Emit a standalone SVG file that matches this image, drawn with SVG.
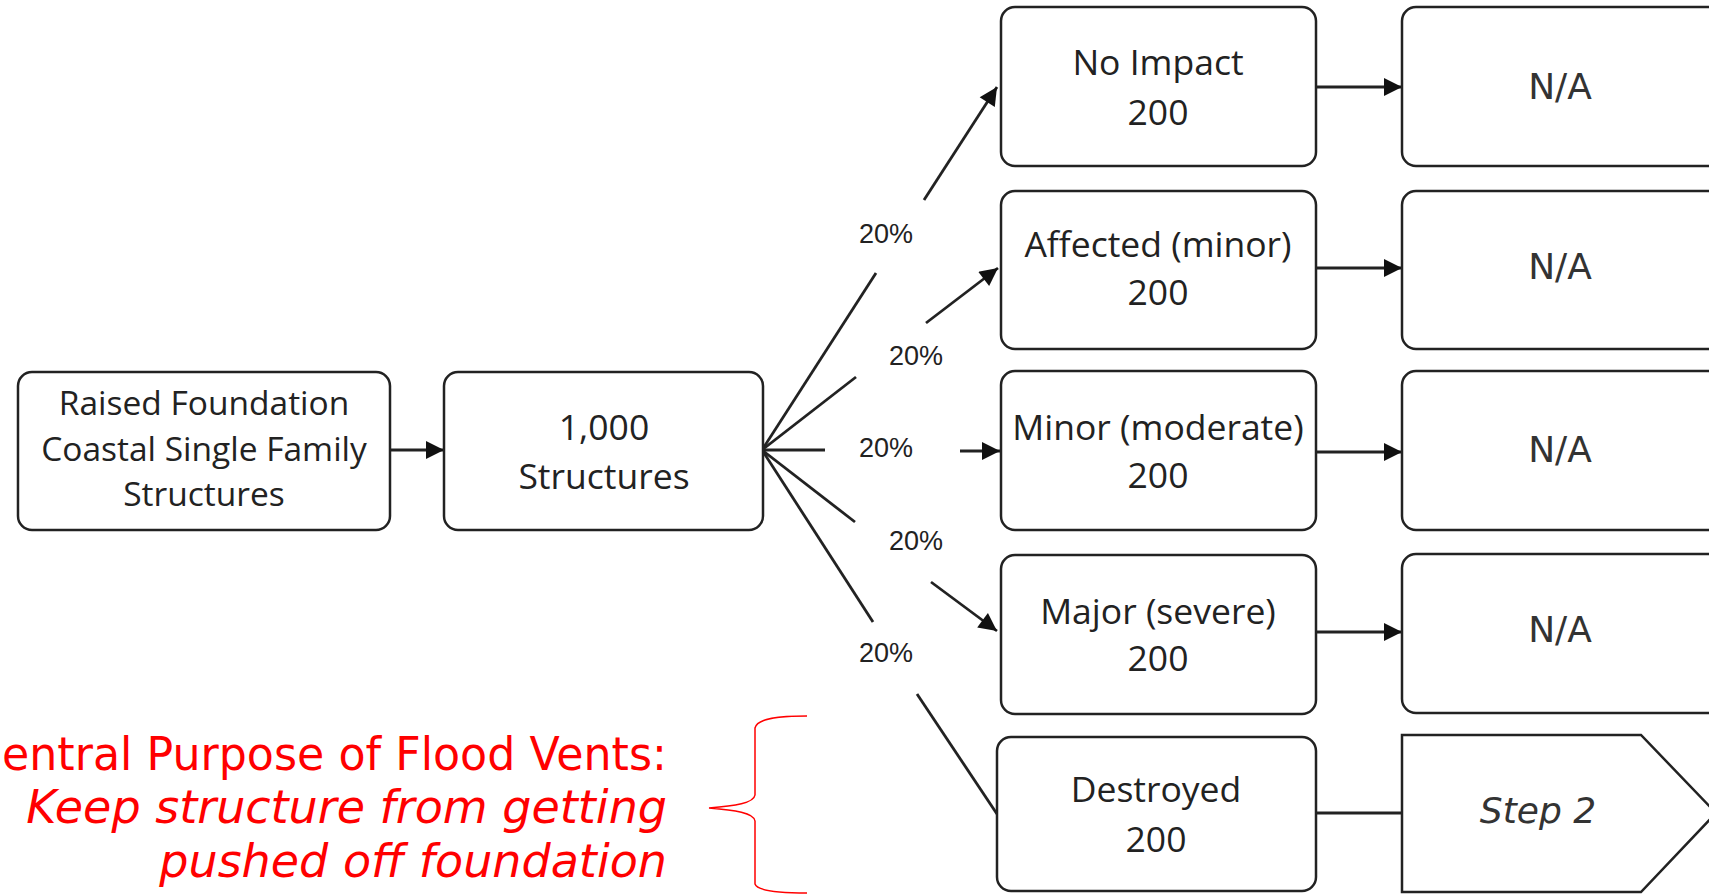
<svg xmlns="http://www.w3.org/2000/svg" width="1709" height="894" viewBox="0 0 1709 894">
<defs>
<marker id="ah" viewBox="0 0 10 10" refX="10" refY="5" markerUnits="userSpaceOnUse" markerWidth="22" markerHeight="18" orient="auto">
<path d="M0,0 L10,5 L0,10 z" fill="#111"/>
</marker>
<style>
.box{fill:#fff;stroke:#222;stroke-width:2.5}
.t{font-family:"Open Sans","Liberation Sans",sans-serif;font-size:35.5px;fill:#222;text-anchor:middle}
.t1{font-size:33.5px}
.na{font-family:"DejaVu Sans",sans-serif;font-size:36px;fill:#333;text-anchor:middle}
.pct{font-family:"Liberation Sans",sans-serif;font-size:27px;fill:#222;text-anchor:middle}
.ln{stroke:#222;stroke-width:2.8;fill:none}
.red{font-family:"DejaVu Sans",sans-serif;font-size:46px;fill:#ff0000}
</style>
</defs>
<rect width="1709" height="894" fill="#fff"/>

<g id="connectors">
<line class="ln" x1="390" y1="450" x2="444" y2="450" stroke-width="3.5" marker-end="url(#ah)"/>
<line class="ln" x1="762" y1="450" x2="876" y2="273"/>
<line class="ln" x1="924" y1="200" x2="997" y2="87" marker-end="url(#ah)"/>
<line class="ln" x1="762" y1="450" x2="856" y2="377"/>
<line class="ln" x1="926" y1="323" x2="998" y2="268" marker-end="url(#ah)"/>
<line class="ln" x1="762" y1="450" x2="825" y2="450"/>
<line class="ln" x1="960" y1="451" x2="1000" y2="451" marker-end="url(#ah)"/>
<line class="ln" x1="762" y1="450" x2="855" y2="522"/>
<line class="ln" x1="931" y1="582" x2="997" y2="631" marker-end="url(#ah)"/>
<line class="ln" x1="762" y1="450" x2="873" y2="622"/>
<line class="ln" x1="917" y1="694" x2="997" y2="814"/>
<line class="ln" x1="1316" y1="87" x2="1402" y2="87" marker-end="url(#ah)"/>
<line class="ln" x1="1316" y1="268" x2="1402" y2="268" marker-end="url(#ah)"/>
<line class="ln" x1="1316" y1="452" x2="1402" y2="452" marker-end="url(#ah)"/>
<line class="ln" x1="1316" y1="632" x2="1402" y2="632" marker-end="url(#ah)"/>
<line class="ln" x1="1316" y1="813" x2="1402" y2="813"/>
<text class="pct" x="886" y="243">20%</text>
<text class="pct" x="916" y="365">20%</text>
<text class="pct" x="886" y="457">20%</text>
<text class="pct" x="916" y="550">20%</text>
<text class="pct" x="886" y="662">20%</text>
</g>

<g id="n-raised">
<rect class="box" x="18" y="372" width="372" height="158" rx="14"/>
<text class="t t1" x="204" y="415">Raised Foundation</text>
<text class="t t1" x="204" y="461">Coastal Single Family</text>
<text class="t t1" x="204" y="506">Structures</text>
</g>
<g id="n-1000">
<rect class="box" x="444" y="372" width="319" height="158" rx="14"/>
<text class="t" x="604" y="440">1,000</text>
<text class="t" x="604" y="489">Structures</text>
</g>
<g id="n-noimpact">
<rect class="box" x="1001" y="7" width="315" height="159" rx="14"/>
<text class="t" x="1158" y="75">No Impact</text>
<text class="t" x="1158" y="125">200</text>
</g>
<g id="n-affected">
<rect class="box" x="1001" y="191" width="315" height="158" rx="14"/>
<text class="t" x="1158" y="257">Affected (minor)</text>
<text class="t" x="1158" y="305">200</text>
</g>
<g id="n-minor">
<rect class="box" x="1001" y="371" width="315" height="159" rx="14"/>
<text class="t" x="1158" y="440">Minor (moderate)</text>
<text class="t" x="1158" y="488">200</text>
</g>
<g id="n-major">
<rect class="box" x="1001" y="555" width="315" height="159" rx="14"/>
<text class="t" x="1158" y="624">Major (severe)</text>
<text class="t" x="1158" y="671">200</text>
</g>
<g id="n-destroyed">
<rect class="box" x="997" y="737" width="319" height="154" rx="14"/>
<text class="t" x="1156" y="802">Destroyed</text>
<text class="t" x="1156" y="852">200</text>
</g>
<g id="n-na1">
<rect class="box" x="1402" y="7" width="330" height="159" rx="14"/>
<text class="na" x="1560" y="99">N/A</text>
</g>
<g id="n-na2">
<rect class="box" x="1402" y="191" width="330" height="158" rx="14"/>
<text class="na" x="1560" y="279">N/A</text>
</g>
<g id="n-na3">
<rect class="box" x="1402" y="371" width="330" height="159" rx="14"/>
<text class="na" x="1560" y="462">N/A</text>
</g>
<g id="n-na4">
<rect class="box" x="1402" y="554" width="330" height="159" rx="14"/>
<text class="na" x="1560" y="642">N/A</text>
</g>
<g id="n-step2">
<path class="box" d="M1402,735 L1641,735 L1716,813 L1641,892 L1402,892 Z"/>
<text class="na" x="1538" y="823" font-size="30" font-style="italic">Step 2</text>
</g>

<g id="annotation">
<path d="M807,716 C780,716 757,718 755,728 L755,795 C754,803 735,806 709,808 C735,810 754,813 755,821 L755,884 C757,890 775,893 807,893" fill="none" stroke="#ff0000" stroke-width="1.5"/>
<text class="red" x="667" y="770" text-anchor="end" textLength="665" lengthAdjust="spacingAndGlyphs">entral Purpose of Flood Vents:</text>
<text class="red" x="667" y="823" text-anchor="end" font-style="italic">Keep structure from getting</text>
<text class="red" x="667" y="877" text-anchor="end" font-style="italic">pushed off foundation</text>
</g>
</svg>
